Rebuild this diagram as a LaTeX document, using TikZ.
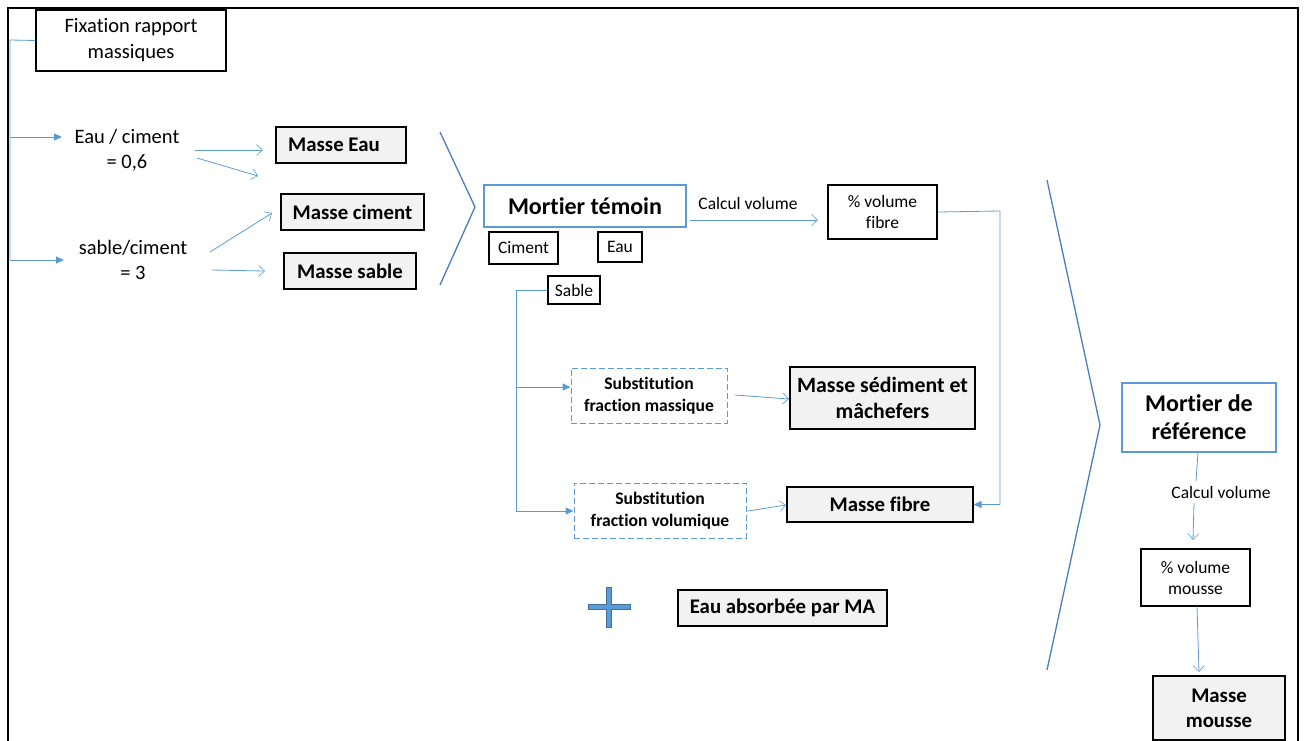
\documentclass[tikz,border=0pt]{standalone}
\usepackage{fontspec}
\setmainfont{Carlito}[Ligatures=NoCommon]
\usetikzlibrary{arrows.meta}
\definecolor{conn}{HTML}{5B9BD5}
\definecolor{chev}{HTML}{4A7EBB}
\definecolor{boxgray}{HTML}{F2F2F2}
\definecolor{plusfill}{HTML}{5B9BD5}
\definecolor{plusline}{HTML}{41719C}
\tikzset{
  bx/.style args={#1/#2}{draw=black, line width=1.1pt, inner sep=0pt, minimum width=#1pt, minimum height=#2pt, align=center},
  plainbox/.style={bx=#1, fill=white},
  graybox/.style={bx=#1, fill=boxgray, font=\bfseries\fontsize{20.8}{25}\selectfont},
  bluebox/.style={bx=#1, draw=conn, fill=white, font=\bfseries\fontsize{24}{28}\selectfont},
  dashbox/.style={bx=#1, draw=conn, dash pattern=on 6pt off 3pt, line width=1pt, font=\bfseries\fontsize{17.6}{22}\selectfont},
  txt/.style={inner sep=0pt, align=center},
  conline/.style={draw=conn, line width=0.8pt},
  openarr/.style={conline, -{Straight Barb[length=6pt,width=11pt,line width=0.6pt]}},
  fillarr/.style={conline, line width=1pt, -{Triangle[length=8pt,width=7pt]}},
  chevline/.style={draw=chev, line width=1.3pt},
}
\begin{document}
\begin{tikzpicture}[x=1pt,y=-1pt]
\useasboundingbox (0,0) rectangle (1307,740);
% frame
\draw[line width=1.8pt] (8,741) -- (8,8) -- (1298,8) -- (1298,741);

% nodes
\node[plainbox=190/61, font=\fontsize{20.5}{26}\selectfont] (fix) at (131,40.5) {Fixation rapport\\massiques};
\node[txt, font=\fontsize{20.5}{25}\selectfont] (ec) at (127,150) {Eau / ciment\\= 0,6};
\node[txt, font=\fontsize{20.5}{25}\selectfont] (sc) at (133,260) {sable/ciment\\= 3};
\node[graybox=130/36] (me) at (341,145) {Masse Eau\hspace{14pt}};
\node[graybox=143/36] (mc) at (352.5,212) {Masse ciment};
\node[graybox=132/36] (ms) at (350,271) {Masse sable};
\node[bluebox=202/42] (mt) at (585,206) {Mortier témoin};
\node[plainbox=69/32, font=\fontsize{17.5}{20}\selectfont] (ci) at (523.5,248) {Ciment};
\node[plainbox=44/30, font=\fontsize{17.5}{20}\selectfont] (eau) at (620,247) {Eau};
\node[plainbox=52/28, font=\fontsize{17.5}{20}\selectfont] (sab) at (574,290) {Sable};
\node[txt, font=\fontsize{17.5}{20}\selectfont] (cv1) at (748,203) {Calcul volume};
\node[plainbox=109/54, font=\fontsize{17.5}{21}\selectfont] (vf) at (882.5,212) {\% volume\\fibre};
\node[dashbox=156/55] (sfm) at (649,395.5) {Substitution\\fraction massique};
\node[graybox=185/62, font=\bfseries\fontsize{21.8}{26}\selectfont] (msm) at (882.5,398) {Masse sédiment et\\mâchefers};
\node[dashbox=172/55] (sfv) at (660,510.5) {Substitution\\fraction volumique};
\node[graybox=186/35] (mf) at (880,504.5) {Masse fibre};
\node[graybox=209/36] (eam) at (782.5,608) {Eau absorbée par MA};
\node[bluebox=154/69] (mr) at (1199,417.5) {Mortier de\\référence};
\node[txt, font=\fontsize{17.5}{20}\selectfont] (cv2) at (1221,492) {Calcul volume};
\node[plainbox=109/57, font=\fontsize{17.5}{21}\selectfont] (vm) at (1195.5,577.5) {\% volume\\mousse};
\node[graybox=132/64] (mm) at (1219,708) {Masse\\mousse};

% left tree
\coordinate (sp1) at (10,40);
\coordinate (sp2) at (10,137);
\coordinate (sp3) at (10,260);
\coordinate (a1) at (62,137);
\coordinate (a2) at (64,260);
\draw[conline] (fix.west) -- (sp1) -- (sp3);
\draw[fillarr] (sp2) -- (a1);
\draw[fillarr] (sp3) -- (a2);

% ratio arrows
\coordinate (e1s) at (195,150); \coordinate (e1e) at (263,150);
\coordinate (e2s) at (197,158); \coordinate (e2e) at (258,176);
\coordinate (s1s) at (210,252); \coordinate (s1e) at (272,213);
\coordinate (s2s) at (212,270); \coordinate (s2e) at (265,271);
\draw[openarr] (e1s) -- (e1e);
\draw[openarr] (e2s) -- (e2e);
\draw[openarr] (s1s) -- (s1e);
\draw[openarr] (s2s) -- (s2e);

% chevron 1
\coordinate (c1a) at (440,132); \coordinate (c1b) at (475,207); \coordinate (c1c) at (440,285);
\draw[chevline] (c1a) -- (c1b) -- (c1c);

% mortier temoin -> volume fibre
\coordinate (t1) at (690,220); \coordinate (t2) at (818,220);
\draw[openarr] (t1) -- (t2);

% volume fibre -> masse fibre
\draw[conline] (vf.east) -- (1000,211) -- (1000,504.5);
\draw[fillarr] (1000,504.5) -- (mf.east);

% sable tree
\coordinate (sb1) at (516,290);
\coordinate (sb2) at (516,387);
\coordinate (sb3) at (516,511);
\draw[conline] (sab.west) -- (sb1) -- (sb3);
\draw[fillarr] (sb2) -- (sfm.west |- sb2);
\draw[fillarr] (sb3) -- (sfv.west |- sb3);

% substitution arrows
\coordinate (m1) at (735,395); \coordinate (m2) at (789,399);
\draw[openarr] (m1) -- (m2);
\coordinate (v1) at (748,511); \coordinate (v2) at (786,505);
\draw[openarr] (v1) -- (v2);

% chevron 2
\coordinate (c2a) at (1047,180); \coordinate (c2b) at (1100,425); \coordinate (c2c) at (1047,670);
\draw[chevline] (c2a) -- (c2b) -- (c2c);

% mortier de reference -> volume mousse -> masse mousse
\coordinate (r1) at (1196,481);
\draw[conline] (1198,452) -- (r1);
\coordinate (r2) at (1194,503); \coordinate (r3) at (1193,540);
\draw[openarr] (r2) -- (r3);
\coordinate (r4) at (1199,672);
\draw[openarr] (1197,606) -- (r4);

% plus sign
\draw[plusline, fill=plusfill, line width=0.8pt]
  (606.5,587) -- (611.5,587) -- (611.5,604.5) -- (630,604.5) -- (630,609.5) -- (611.5,609.5)
  -- (611.5,627) -- (606.5,627) -- (606.5,609.5) -- (588,609.5) -- (588,604.5) -- (606.5,604.5) -- cycle;
\end{tikzpicture}
\end{document}
